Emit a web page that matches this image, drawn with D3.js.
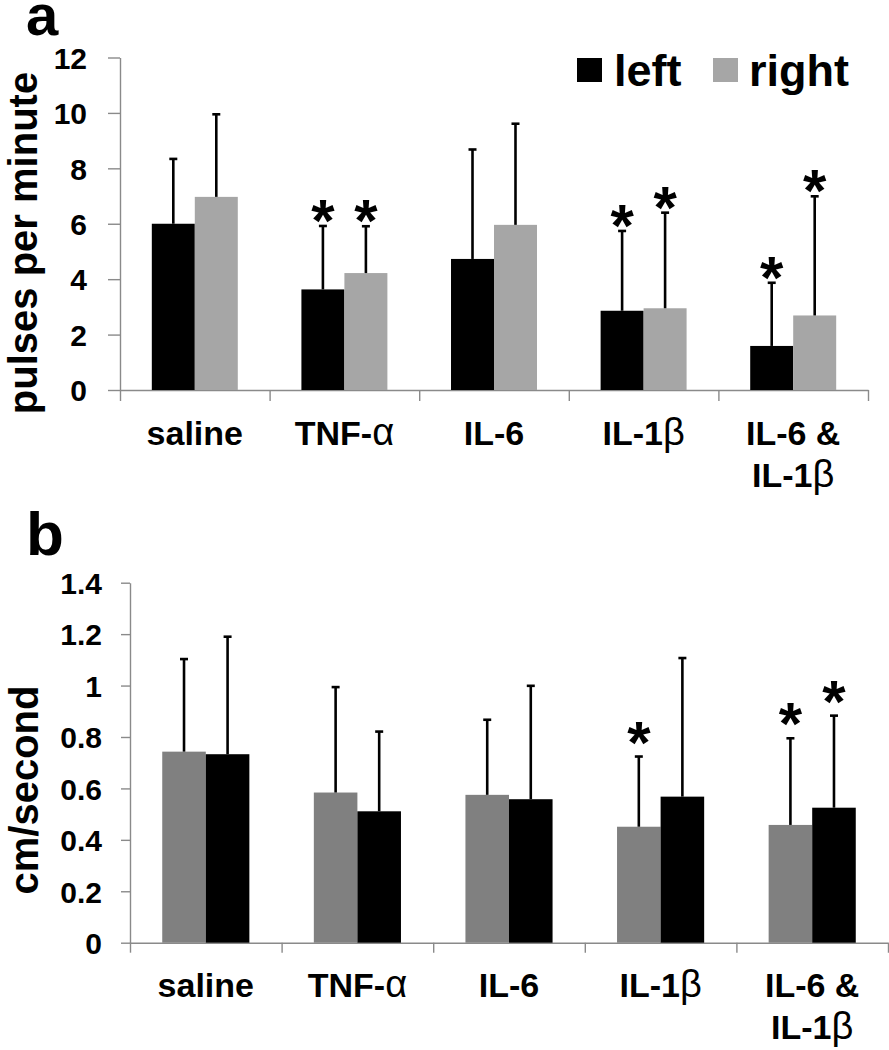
<!DOCTYPE html>
<html>
<head>
<meta charset="utf-8">
<script src="https://cdn.jsdelivr.net/npm/d3@7"></script>
<style>
  html, body { margin: 0; padding: 0; background: #fff; }
  svg { display: block; }
  text { font-family: "Liberation Sans", Arial, sans-serif; font-weight: bold; fill: #000; }
</style>
</head>
<body>
<svg id="chart" width="889" height="1050"></svg>
<script>
// ---------- data ----------
const categories = ["saline", "TNF-α", "IL-6", "IL-1β", "IL-6 & IL-1β"];
const categoryLabelLines = [["saline"], ["TNF-α"], ["IL-6"], ["IL-1β"], ["IL-6 &", "IL-1β"]];
const seriesNames = ["left", "right"];

// panel a: pulses per minute
const pulsesTicks = [0, 2, 4, 6, 8, 10, 12];
const pulsesLeft     = [6.00, 3.63, 4.73, 2.86, 1.59];
const pulsesLeftErr  = [2.34, 2.29, 3.95, 2.88, 2.28];
const pulsesRight    = [6.97, 4.22, 5.96, 2.95, 2.69];
const pulsesRightErr = [2.98, 1.69, 3.65, 3.45, 4.30];
const pulsesLeftSig  = [false, true, false, true, true];
const pulsesRightSig = [false, true, false, true, true];

// panel b: cm/second
const velocityTicks = [0, 0.2, 0.4, 0.6, 0.8, 1, 1.2, 1.4];
const velocityLeft     = [0.743, 0.584, 0.575, 0.451, 0.458];
const velocityLeftErr  = [0.360, 0.410, 0.292, 0.273, 0.337];
const velocityRight    = [0.733, 0.511, 0.558, 0.568, 0.525];
const velocityRightErr = [0.457, 0.310, 0.441, 0.539, 0.358];
const velocityLeftSig  = [false, false, false, true, true];
const velocityRightSig = [false, false, false, false, true];

// ---------- drawing ----------
const svg = d3.select("#chart");
const axisColor = "#8a8a8a";

function addLabelLine(sel, str) {
  // greek letters in regular weight, like the reference
  str.split(/([αβ])/).forEach(p => {
    if (!p) return;
    const t = sel.append("tspan").text(p);
    if (p === "α" || p === "β") t.style("font-weight", "normal").style("font-size", "38px");
  });
}

function panel(cfg) {
  const g = svg.append("g");
  const x = d3.scaleBand().domain(categories).range([cfg.x0, cfg.x1]).paddingInner(0).paddingOuter(0);
  const xs = d3.scaleBand().domain(seriesNames).range([0, x.bandwidth()]).paddingInner(0).paddingOuter(0.74);
  const y = d3.scaleLinear().domain(cfg.domain).range([cfg.yBottom, cfg.yTop]);

  // y axis
  const ya = g.append("g").attr("transform", `translate(${cfg.x0},0)`)
    .call(d3.axisLeft(y).tickValues(cfg.ticks).tickSize(cfg.tickLen).tickSizeOuter(0)
      .tickPadding(cfg.tickPad).tickFormat(d3.format("~g")));
  ya.select(".domain").attr("stroke", axisColor).attr("stroke-width", 1.4);
  ya.selectAll(".tick line").attr("stroke", axisColor).attr("stroke-width", 1.4);
  ya.selectAll(".tick text").style("font-size", "30px").style("font-family", "'Liberation Sans', Arial, sans-serif")
    .style("font-weight", "bold").attr("fill", "#000").attr("dy", "0.36em");

  // x axis with ticks on category boundaries
  const idx = d3.scaleLinear().domain([0, categories.length]).range([cfg.x0, cfg.x1]);
  const xa = g.append("g").attr("transform", `translate(0,${cfg.yBottom})`)
    .call(d3.axisBottom(idx).tickValues(d3.range(categories.length + 1)).tickSize(cfg.xTickLen)
      .tickSizeOuter(0).tickFormat(""));
  xa.select(".domain").attr("stroke", axisColor).attr("stroke-width", 1.4);
  xa.selectAll(".tick line").attr("stroke", axisColor).attr("stroke-width", 1.4);

  // category labels
  categories.forEach((c, i) => {
    categoryLabelLines[i].forEach((line, k) => {
      const t = g.append("text")
        .attr("x", x(c) + x.bandwidth() / 2)
        .attr("y", cfg.yBottom + cfg.labelOffset + k * 42)
        .attr("text-anchor", "middle")
        .style("font-size", "34px");
      addLabelLine(t, line);
    });
  });

  // bars, error bars, significance stars
  cfg.series.forEach(s => {
    categories.forEach((c, i) => {
      const bx = x(c) + xs(s.name);
      const bw = xs.bandwidth();
      const v = s.values[i];
      g.append("rect").attr("x", bx).attr("y", y(v)).attr("width", bw)
        .attr("height", y(0) - y(v)).attr("fill", s.color);
      const cx = bx + bw / 2;
      const top = y(v + s.err[i]);
      g.append("line").attr("x1", cx).attr("x2", cx).attr("y1", y(v)).attr("y2", top)
        .attr("stroke", "#000").attr("stroke-width", 2.6);
      g.append("line").attr("x1", cx - 4).attr("x2", cx + 4).attr("y1", top).attr("y2", top)
        .attr("stroke", "#000").attr("stroke-width", 2.6);
      if (s.sig[i]) {
        g.append("text").attr("x", cx).attr("y", top - cfg.starGap + 33)
          .attr("text-anchor", "middle").style("font-size", "60px").text("*");
      }
    });
  });

  // y title
  g.append("text")
    .attr("transform", `translate(${cfg.titleX},${cfg.titleY}) rotate(-90)`)
    .attr("text-anchor", "middle")
    .style("font-size", "40px")
    .text(cfg.title);

  // panel letter
  g.append("text").attr("x", 26).attr("y", cfg.letterY).style("font-size", cfg.letterSize).text(cfg.letter);
}

panel({
  x0: 120, x1: 868, yTop: 57.5, yBottom: 390, domain: [0, 12], ticks: pulsesTicks,
  tickLen: 12, tickPad: 21, xTickLen: 11, labelOffset: 55,
  series: [
    { name: "left", values: pulsesLeft, err: pulsesLeftErr, sig: pulsesLeftSig, color: "#000000" },
    { name: "right", values: pulsesRight, err: pulsesRightErr, sig: pulsesRightSig, color: "#a6a6a6" }
  ],
  starGap: 18, title: "pulses per minute", titleX: 37, titleY: 243,
  letter: "a", letterY: 35, letterSize: "58px"
});

panel({
  x0: 130, x1: 888, yTop: 582.7, yBottom: 942.7, domain: [0, 1.4], ticks: velocityTicks,
  tickLen: 9, tickPad: 19, xTickLen: 10, labelOffset: 54,
  series: [
    { name: "left", values: velocityLeft, err: velocityLeftErr, sig: velocityLeftSig, color: "#808080" },
    { name: "right", values: velocityRight, err: velocityRightErr, sig: velocityRightSig, color: "#000000" }
  ],
  starGap: 27, title: "cm/second", titleX: 38, titleY: 790,
  letter: "b", letterY: 555, letterSize: "62px"
});

// legend (panel a)
const legend = svg.append("g");
const legendItems = [
  { name: "left", color: "#000000", sx: 577, tx: 614 },
  { name: "right", color: "#a6a6a6", sx: 713, tx: 749 }
];
legendItems.forEach(d => {
  legend.append("rect").attr("x", d.sx).attr("y", 58).attr("width", 25).attr("height", 24).attr("fill", d.color);
  legend.append("text").attr("x", d.tx).attr("y", 86).style("font-size", "45px").text(d.name);
});
</script>
</body>
</html>
